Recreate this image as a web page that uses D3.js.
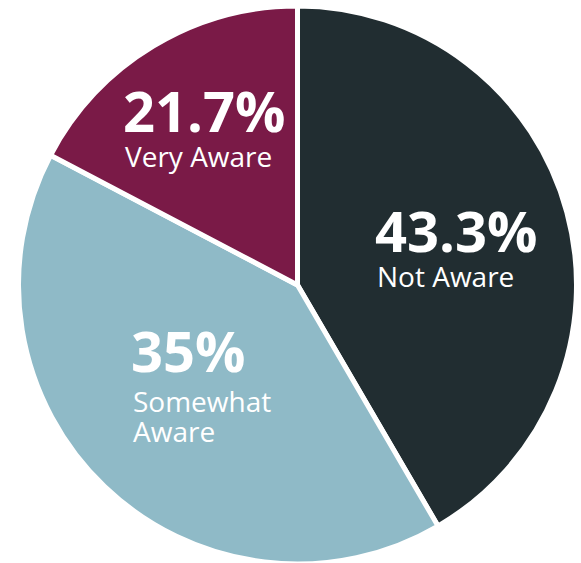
<!DOCTYPE html>
<html>
<head>
<meta charset="utf-8">
<script src="https://cdn.jsdelivr.net/npm/d3@7"></script>
<style>
  html, body { margin: 0; padding: 0; background: #ffffff; }
  svg { display: block; }
</style>
</head>
<body>
<script>
// Categories and values (slice sizes estimated from the drawn angles; labels as printed)
const categories = ["Not Aware", "Somewhat Aware", "Very Aware"];
const sliceShares = [41.6, 41.1, 17.3];
const percentLabels = ["43.3%", "35%", "21.7%"];
const labelLines = [["Not Aware"], ["Somewhat", "Aware"], ["Very Aware"]];
const colors = ["#212d31", "#8fbac7", "#7a1a47"];

const W = 581, H = 563;
const cx = 297.5, cy = 285, R = 279;

const svg = d3.select("body").append("svg")
  .attr("width", W).attr("height", H);

const pie = d3.pie().sort(null).value(d => d.v);
const data = categories.map((c, i) => ({ c, v: sliceShares[i], i }));
const arcs = pie(data);
const arc = d3.arc().innerRadius(0).outerRadius(R);

const g = svg.append("g").attr("transform", `translate(${cx},${cy})`);
g.selectAll("path").data(arcs).join("path")
  .attr("d", arc)
  .attr("fill", d => colors[d.data.i])
  .attr("stroke", "#ffffff")
  .attr("stroke-width", 5)
  .attr("stroke-linejoin", "miter");

// label anchors (left x, baseline of percent)
const labelPos = [
  { x: 375, y: 252 },
  { x: 131, y: 372 },
  { x: 123, y: 132 }
];

const font = "'Open Sans', 'Noto Sans', sans-serif";
labelPos.forEach((p, i) => {
  const t = svg.append("text")
    .attr("x", p.x).attr("y", p.y)
    .attr("fill", "#ffffff")
    .attr("font-family", font);
  t.append("tspan")
    .attr("x", p.x).attr("y", p.y)
    .attr("font-weight", 700)
    .attr("font-size", 56)
    .text(percentLabels[i]);
  labelLines[i].forEach((line, j) => {
    t.append("tspan")
      .attr("x", p.x + 2).attr("y", p.y + (i === 1 ? 40 : 35) + j * 30)
      .attr("font-weight", 400)
      .attr("font-size", 28)
      .text(line);
  });
});
</script>
</body>
</html>
